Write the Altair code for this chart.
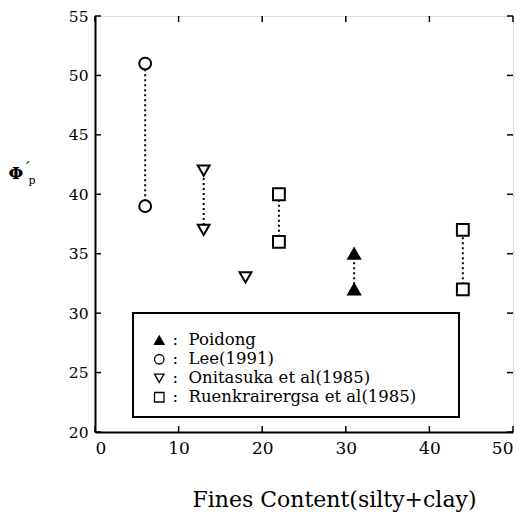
import altair as alt
import pandas as pd

# ---- data ----
series_names = ["Poidong", "Lee(1991)", "Onitasuka et al(1985)", "Ruenkrairergsa et al(1985)"]
series_shapes = ["triangle-up", "circle", "triangle-down", "square"]
series_fills = ["black", "white", "white", "white"]
series_strokes = ["black", "black", "black", "black"]

pt_series = ["Lee(1991)", "Lee(1991)",
             "Onitasuka et al(1985)", "Onitasuka et al(1985)", "Onitasuka et al(1985)",
             "Ruenkrairergsa et al(1985)", "Ruenkrairergsa et al(1985)",
             "Ruenkrairergsa et al(1985)", "Ruenkrairergsa et al(1985)",
             "Poidong", "Poidong"]
pt_x = [6, 6, 13, 13, 18, 22, 22, 44, 44, 31, 31]
pt_y = [51, 39, 42, 37, 33, 40, 36, 37, 32, 35, 32]

# dotted connectors
pair_x = [6, 13, 22, 44, 31]
pair_lo = [39, 37, 36, 32, 32]
pair_hi = [51, 42, 40, 37, 35]

x_ticks = [0, 10, 20, 30, 40, 50]
y_ticks = [20, 25, 30, 35, 40, 45, 50, 55]

W, H = 418, 416
FONT = "DejaVu Serif"

points = pd.DataFrame({"series": pt_series, "x": pt_x, "y": pt_y})
pairs = pd.DataFrame({"x": pair_x, "lo": pair_lo, "hi": pair_hi})
xt = pd.DataFrame({"v": x_ticks})
yt = pd.DataFrame({"v": y_ticks})

xscale = alt.Scale(domain=[0, 50], nice=False, zero=False)
yscale = alt.Scale(domain=[20, 55], nice=False, zero=False)

xaxis = alt.Axis(values=x_ticks, ticks=False, grid=False, labelFont=FONT, labelFontSize=17,
                 labelPadding=8, domainColor="black", domainWidth=2, labelColor="black",
                 title="Fines Content(silty+clay)", titleFont=FONT, titleFontSize=22,
                 titleFontWeight="normal", titleColor="black", titleX=239, titleY=67,
                 titleBaseline="middle", titleAnchor="middle", titleAlign="center")
yaxis = alt.Axis(values=y_ticks, ticks=False, grid=False, labelFont=FONT, labelFontSize=15.5,
                 labelPadding=7, domainColor="black", domainWidth=2, labelColor="black", title=None)

leg = alt.Legend(title=None, orient="none", legendX=56, legendY=316,
                 labelFont=FONT, labelFontSize=16.5, labelColor="black",
                 labelExpr="':\u00a0\u00a0' + datum.label", symbolSize=90,
                 symbolStrokeWidth=1.3, rowPadding=2, labelOffset=5, padding=0, labelLimit=400)

connectors = alt.Chart(pairs).mark_rule(strokeDash=[2, 3], strokeWidth=2, color="black").encode(
    x=alt.X("x:Q", scale=xscale, axis=xaxis),
    y=alt.Y("lo:Q", scale=yscale, axis=yaxis),
    y2="hi:Q",
)

pts = alt.Chart(points).mark_point(size=140, strokeWidth=2, opacity=1).encode(
    x=alt.X("x:Q", scale=xscale),
    y=alt.Y("y:Q", scale=yscale),
    shape=alt.Shape("series:N", scale=alt.Scale(domain=series_names, range=series_shapes), legend=leg),
    fill=alt.Fill("series:N", scale=alt.Scale(domain=series_names, range=series_fills), legend=leg),
    stroke=alt.Stroke("series:N", scale=alt.Scale(domain=series_names, range=series_strokes), legend=leg),
)

box = alt.Chart(pd.DataFrame({"k": [0]})).mark_rect(fill="white", stroke="black", strokeWidth=2).encode(
    x=alt.value(38), x2=alt.value(364), y=alt.value(297), y2=alt.value(401)
)

tick_l = alt.Chart(yt).mark_rule(color="black", strokeWidth=1.5).encode(
    y=alt.Y("v:Q", scale=yscale), x=alt.value(0), x2=alt.value(6))
tick_r = alt.Chart(yt).mark_rule(color="black", strokeWidth=1.5).encode(
    y=alt.Y("v:Q", scale=yscale), x=alt.value(W - 6), x2=alt.value(W))
tick_b = alt.Chart(xt).mark_rule(color="black", strokeWidth=1.5).encode(
    x=alt.X("v:Q", scale=xscale), y=alt.value(H - 6), y2=alt.value(H))
tick_t = alt.Chart(xt).mark_rule(color="black", strokeWidth=1.5).encode(
    x=alt.X("v:Q", scale=xscale), y=alt.value(0), y2=alt.value(6))

ytitle = alt.Chart(pd.DataFrame({"t": ["Φ"]})).mark_text(
    font=FONT, fontSize=17, fontWeight="bold", fill="black", align="center", baseline="middle"
).encode(text="t:N", x=alt.value(-79), y=alt.value(158))
yprime = alt.Chart(pd.DataFrame({"t": ["´"]})).mark_text(
    font=FONT, fontSize=14, fill="black", align="center", baseline="middle"
).encode(text="t:N", x=alt.value(-68), y=alt.value(153))
ysub = alt.Chart(pd.DataFrame({"t": ["p"]})).mark_text(
    font=FONT, fontSize=11, fill="black", align="center", baseline="middle"
).encode(text="t:N", x=alt.value(-63), y=alt.value(165))

chart = alt.layer(connectors, box, pts, tick_l, tick_r, tick_b, tick_t, ytitle, yprime, ysub).properties(
    width=W, height=H,
    autosize=alt.AutoSizeParams(type="none"),
    padding={"left": 87, "top": 8, "right": 2, "bottom": 80},
).configure_view(stroke="black", strokeWidth=2).configure(background="white")

chart.save("out.html", embed_options={"renderer": "svg", "actions": False})
